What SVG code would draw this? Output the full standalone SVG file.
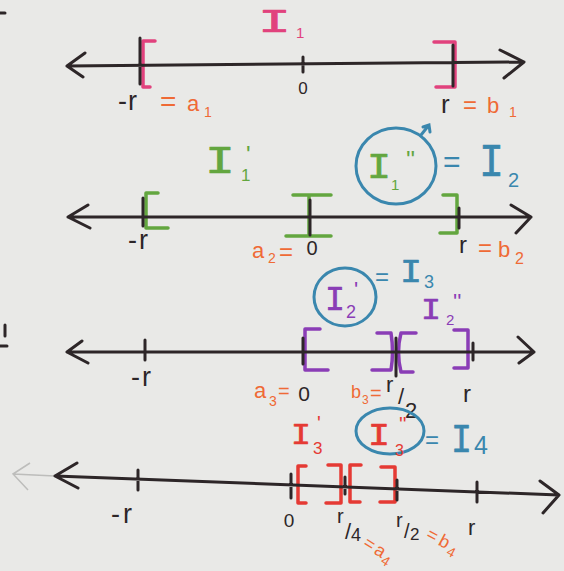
<svg xmlns="http://www.w3.org/2000/svg" width="564" height="571" viewBox="0 0 564 571">
<style>
.ink{fill:none;stroke:#2d2628;stroke-width:3;stroke-linecap:round;stroke-linejoin:round}
.br{fill:none;stroke-width:3.5;stroke-linecap:round;stroke-linejoin:round}
.pk{stroke:#e1427d}.gr{stroke:#63a63f}.pu{stroke:#8a3db6}.rd{stroke:#e53a34}
.circ{fill:none;stroke:#3a87ae;stroke-width:3;stroke-linecap:round}
text{font-family:"Liberation Sans",Arial,sans-serif}
.I{font-family:"Liberation Mono",monospace;stroke-width:0.7;stroke-linejoin:round}
.tk{fill:#2d2628}.tpk{fill:#e1427d}.tor{fill:#ef6a35}.tgr{fill:#63a63f}.tbl{fill:#3a87ae}.tpu{fill:#8a3db6}.trd{fill:#e53a34}
.I.tpk{stroke:#e1427d}.I.tgr{stroke:#63a63f}.I.tbl{stroke:#3a87ae}.I.tpu{stroke:#8a3db6}.I.trd{stroke:#e53a34}
</style>
<rect width="564" height="571" fill="#e9e9e7"/>
<path class="ink" stroke-width="2" d="M0,13 L5,13 M0,346 L7,346 M5,325 L5,336"/>

<g id="line1">
<path class="br pk" d="M155,41 L143,41 L143,87 L150,87"/>
<path class="br pk" d="M434,42 L455,42 L455,87 L436,87"/>
<path class="ink" d="M67,66 L524,62 M85,53 L67,66 L83,77 M500,50 L524,62 L504,78 M140,38 L140,84 M303,57 L303,72 M453,45 L453,86"/>
<text class="I tpk" x="258" y="32" font-size="33" textLength="33" lengthAdjust="spacingAndGlyphs">I</text>
<text class="tpk" x="296" y="38" font-size="15">1</text>
<text class="tk" x="303" y="94" font-size="17" text-anchor="middle">0</text>
<text class="tk" y="110" font-size="27"><tspan x="118">-</tspan><tspan x="128">r</tspan></text>
<text class="tor" y="111" font-size="22"><tspan x="160" font-size="28">=</tspan><tspan x="187">a</tspan><tspan x="204" y="117" font-size="14">1</tspan></text>
<text class="tk" x="441" y="113" font-size="26">r</text>
<text class="tor" y="113" font-size="22"><tspan x="463" font-size="24">=</tspan><tspan x="487">b</tspan><tspan x="509" y="117" font-size="14">1</tspan></text>
</g>

<g id="line2">
<path class="br gr" d="M158,193 L146,193 L146,228 L168,228"/>
<path class="br gr" d="M293,195 L331,195 M309,195 L309,236 M286,236 L331,236"/>
<path class="br gr" d="M443,195 L457,195 L457,233 L440,233"/>
<path class="ink" d="M68,217 L531,217 M88,205 L68,217 L90,228 M511,205 L531,217 L516,233 M143,198 L143,226 M310,200 L310,235 M459,208 L459,228"/>
<text class="tk" y="249" font-size="27"><tspan x="128">-</tspan><tspan x="139">r</tspan></text>
<text class="tor" font-size="22"><tspan x="252" y="258">a</tspan><tspan x="268" y="263" font-size="14">2</tspan><tspan x="279" y="260" font-size="24">=</tspan></text>
<text class="tk" x="312" y="255" font-size="20" text-anchor="middle">0</text>
<text class="tk" x="459" y="253" font-size="24">r</text>
<text class="tor" font-size="22"><tspan x="478" y="256" font-size="24">=</tspan><tspan x="498" y="257">b</tspan><tspan x="515" y="264" font-size="16">2</tspan></text>
<text class="I tgr" x="205" y="173" font-size="39" textLength="30" lengthAdjust="spacingAndGlyphs">I</text>
<text class="tgr" x="241" y="181" font-size="17">1</text>
<text class="tgr" x="246" y="163" font-size="24">'</text>
<ellipse class="circ" cx="396" cy="166" rx="40" ry="38"/>
<path class="circ" d="M421,135 L429,125 M423,127 L429,125 L430,132"/>
<text class="I tgr" x="367" y="178" font-size="36" textLength="24" lengthAdjust="spacingAndGlyphs">I</text>
<text class="tgr" x="391" y="190" font-size="15">1</text>
<text class="tgr" x="406" y="168" font-size="24">''</text>
<text class="tbl" x="443" y="172" font-size="30">=</text>
<text class="I tbl" x="479" y="176" font-size="46" textLength="25" lengthAdjust="spacingAndGlyphs">I</text>
<text class="tbl" x="508" y="187" font-size="20">2</text>
</g>

<g id="line3">
<path class="br pu" d="M320,329 L305,329 L305,370 L328,370"/>
<path class="br pu" d="M377,333 L391,333 Q394,352 391,370 L372,370"/>
<path class="br pu" d="M416,333 L401,333 Q396,352 401,372 L413,372"/>
<path class="br pu" d="M454,330 L468,330 L468,368 L454,368"/>
<path class="ink" d="M67,352 L534,352 M82,341 L67,352 L88,363 M518,337 L534,352 L519,363 M145,340 L145,360 M303,338 L303,364 M396,338 L396,376 M473,343 L473,360"/>
<text class="tk" y="386" font-size="27"><tspan x="131">-</tspan><tspan x="142">r</tspan></text>
<text class="tor" font-size="22"><tspan x="254" y="398">a</tspan><tspan x="269" y="406" font-size="14">3</tspan><tspan x="278" y="398" font-size="20">=</tspan></text>
<text class="tk" x="304" y="401" font-size="21" text-anchor="middle">0</text>
<text class="tor" font-size="18"><tspan x="351" y="398">b</tspan><tspan x="362" y="404" font-size="12">3</tspan><tspan x="370" y="400" font-size="20">=</tspan></text>
<text class="tk" font-size="22"><tspan x="386" y="392">r</tspan><tspan x="398" y="404">/</tspan><tspan x="405" y="418">2</tspan></text>
<text class="tk" x="463" y="402" font-size="24">r</text>
<ellipse class="circ" cx="345" cy="297" rx="31" ry="29"/>
<text class="I tpu" x="325" y="310" font-size="35" textLength="20" lengthAdjust="spacingAndGlyphs">I</text>
<text class="tpu" x="346" y="318" font-size="18">2</text>
<text class="tpu" x="354" y="297" font-size="22">'</text>
<text class="tbl" x="375" y="285" font-size="24">=</text>
<text class="I tbl" x="400" y="282" font-size="33" textLength="22" lengthAdjust="spacingAndGlyphs">I</text>
<text class="tbl" x="424" y="288" font-size="18">3</text>
<text class="I tpu" x="421" y="319" font-size="30" textLength="20" lengthAdjust="spacingAndGlyphs">I</text>
<text class="tpu" x="446" y="325" font-size="15">2</text>
<text class="tpu" x="453" y="309" font-size="22">''</text>
</g>

<g id="line4">
<path d="M13,474 L55,476 M30,463 L13,474 L28,490" stroke="#bdbdbb" stroke-width="1.5" fill="none"/>
<path class="br rd" d="M306,466 L298,466 L298,503 L306,503"/>
<path class="br rd" d="M328,465 L341,465 L341,503 L326,503"/>
<path class="br rd" d="M361,465 L350,465 L350,502 L360,502"/>
<path class="br rd" d="M381,467 L395,467 L395,502 L380,502"/>
<path class="ink" stroke-width="3.5" d="M55,476 L559,495 M77,463 L55,476 L78,488 M540,481 L559,495 L543,513 M138,470 L138,490 M291,474 L291,498 M345,477 L345,494 M397,480 L397,500 M477,482 L477,502"/>
<text class="tk" y="523" font-size="27"><tspan x="111">-</tspan><tspan x="123">r</tspan></text>
<text class="tk" x="289" y="527" font-size="19" text-anchor="middle">0</text>
<text class="tk" font-size="20"><tspan x="337" y="523">r</tspan><tspan x="345" y="539" font-size="22">/</tspan><tspan x="351" y="541" font-size="18">4</tspan></text>
<text class="tor" font-size="18" transform="rotate(32 362 546)"><tspan x="362" y="546">=</tspan><tspan x="375" y="546">a</tspan><tspan x="386" y="551" font-size="14">4</tspan></text>
<text class="tk" font-size="20"><tspan x="396" y="527">r</tspan><tspan x="404" y="538">/</tspan><tspan x="410" y="540" font-size="17">2</tspan></text>
<text class="tor" font-size="18" transform="rotate(28 425 538)"><tspan x="425" y="538">=</tspan><tspan x="439" y="538">b</tspan><tspan x="451" y="543" font-size="14">4</tspan></text>
<text class="tk" x="468" y="535" font-size="22">r</text>
<text class="I trd" x="291" y="444" font-size="30" textLength="20" lengthAdjust="spacingAndGlyphs">I</text>
<text class="trd" x="313" y="454" font-size="17">3</text>
<text class="trd" x="317" y="430" font-size="20">'</text>
<ellipse class="circ" cx="390" cy="431" rx="34" ry="23"/>
<text class="I trd" x="368" y="445" font-size="32" textLength="22" lengthAdjust="spacingAndGlyphs">I</text>
<text class="trd" x="395" y="456" font-size="16">3</text>
<text class="trd" x="399" y="431" font-size="20">''</text>
<text class="tbl" x="425" y="448" font-size="24">=</text>
<text class="I tbl" x="451" y="452" font-size="40" textLength="21" lengthAdjust="spacingAndGlyphs">I</text>
<text class="tbl" x="474" y="454" font-size="25">4</text>
</g>
</svg>
